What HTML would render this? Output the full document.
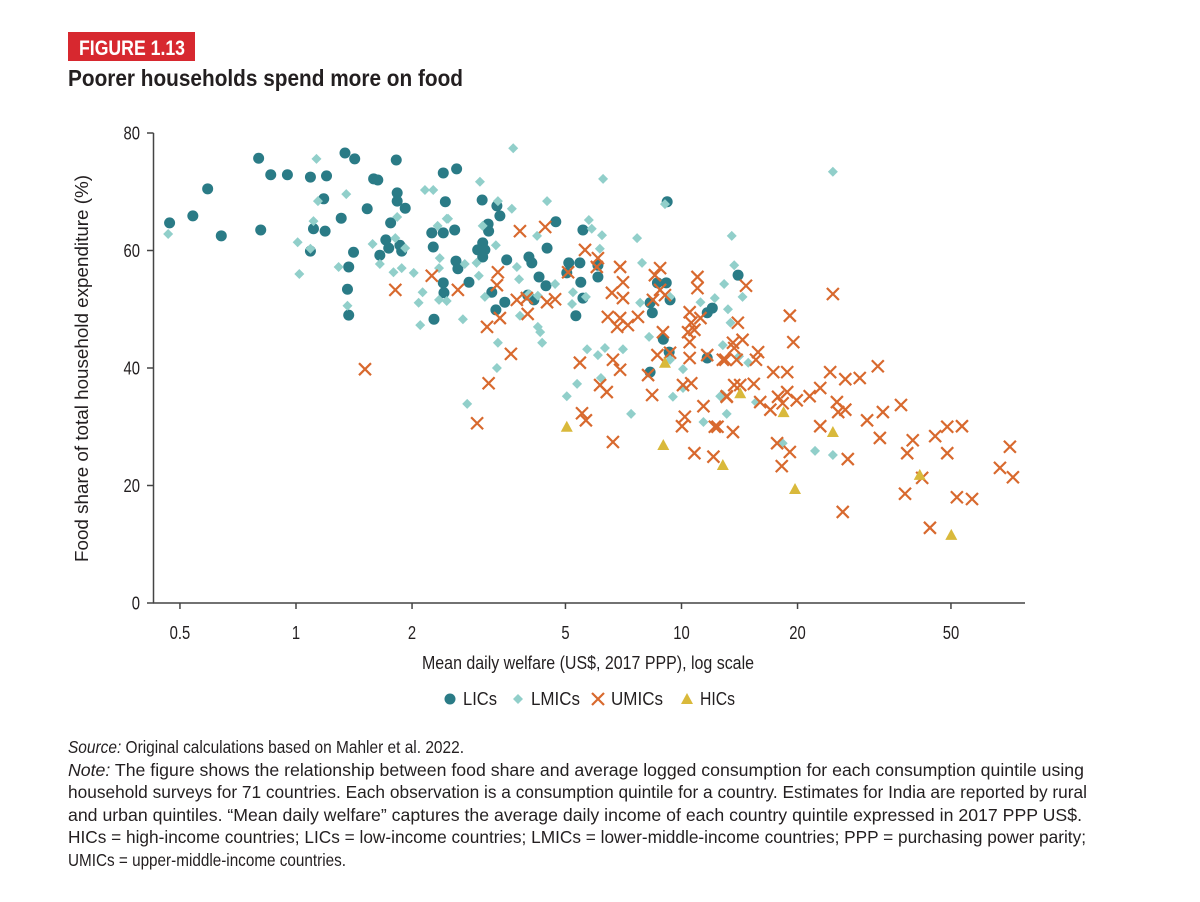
<!DOCTYPE html>
<html><head><meta charset="utf-8">
<style>
body{margin:0;background:#fff;width:1200px;height:902px;overflow:hidden;font-family:"Liberation Sans",sans-serif;color:#231f20;}
svg{position:absolute;left:0;top:0;}
</style></head><body>
<svg id="chart" width="1200" height="902">
<rect x="68" y="32" width="127" height="29" fill="#d7282f"/>
<text x="79" y="55" font-size="21" font-weight="bold" fill="#fff" textLength="106" lengthAdjust="spacingAndGlyphs">FIGURE 1.13</text>
<text x="68" y="86" font-size="23" font-weight="bold" fill="#231f20" textLength="395" lengthAdjust="spacingAndGlyphs">Poorer households spend more on food</text>
<g font-size="17.5" fill="#231f20">
<text x="68" y="753" textLength="396" lengthAdjust="spacingAndGlyphs"><tspan font-style="italic">Source:</tspan> Original calculations based on Mahler et al. 2022.</text>
<text x="68" y="776" textLength="1016" lengthAdjust="spacingAndGlyphs"><tspan font-style="italic">Note:</tspan> The figure shows the relationship between food share and average logged consumption for each consumption quintile using</text>
<text x="68" y="798" textLength="1019" lengthAdjust="spacingAndGlyphs">household surveys for 71 countries. Each observation is a consumption quintile for a country. Estimates for India are reported by rural</text>
<text x="68" y="821" textLength="1014" lengthAdjust="spacingAndGlyphs">and urban quintiles. “Mean daily welfare” captures the average daily income of each country quintile expressed in 2017 PPP US$.</text>
<text x="68" y="843" textLength="1018" lengthAdjust="spacingAndGlyphs">HICs = high-income countries; LICs = low-income countries; LMICs = lower-middle-income countries; PPP = purchasing power parity;</text>
<text x="68" y="866" textLength="278" lengthAdjust="spacingAndGlyphs">UMICs = upper-middle-income countries.</text>
</g>
</svg>
<script>
const xTicks=[0.5,1,2,5,10,20,50];
const xTickLabels=["0.5","1","2","5","10","20","50"];
const yTicks=[0,20,40,60,80];
const licX=[0.80,0.86,0.95,1.09,1.20,0.59,0.54,0.47,0.64,0.81,1.11,1.19,1.09,1.18,1.31,1.34,1.42,1.82,1.59,1.63,1.53,1.41,1.37,1.36,1.37,1.65,1.71,1.74,1.86,1.88,1.76,1.83,1.83,1.92,2.41,2.61,2.44,2.25,2.41,2.27,2.41,2.42,2.28,3.04,3.32,3.38,3.15,3.16,3.05,2.96,3.09,3.05,2.58,2.60,2.63,2.81,3.22,3.30,3.48,3.52,4.02,4.09,4.48,4.72,4.27,4.45,4.14,3.99,5.55,5.10,5.45,5.04,5.48,6.07,6.07,5.32,5.55,8.29,8.40,9.18,8.66,9.13,9.34,8.97,9.29,8.29,11.66,12.02,11.66,14.02];
const licY=[75.7,72.9,72.9,72.5,72.7,70.5,65.9,64.7,62.5,63.5,63.7,63.3,59.9,68.8,65.5,76.6,75.6,75.4,72.2,72.0,67.1,59.7,57.2,53.4,49.0,59.2,61.8,60.4,60.9,59.9,64.7,69.8,68.4,67.2,73.2,73.9,68.3,63.0,63.0,60.6,54.5,52.8,48.3,68.6,67.6,65.9,64.5,63.3,61.3,60.1,60.1,58.9,63.5,58.2,56.9,54.6,52.9,49.9,51.2,58.4,58.9,57.9,60.4,64.9,55.5,54.0,51.6,52.4,63.5,57.9,57.9,56.2,54.6,55.5,57.5,48.9,51.9,51.1,49.4,68.3,54.5,54.5,51.6,44.9,42.7,39.3,41.7,50.2,49.4,55.8];
const lmicX=[0.466,1.13,1.14,1.35,1.11,1.01,1.09,1.02,1.29,1.36,1.58,1.65,1.79,1.88,1.83,1.81,1.92,2.02,2.08,2.13,2.10,2.16,2.27,2.33,2.46,2.36,2.35,2.35,2.46,3.66,3.0,6.26,3.34,3.63,4.48,2.48,3.05,3.30,4.22,5.75,5.85,6.22,6.14,7.67,9.06,13.5,13.7,2.74,2.94,2.98,3.74,3.79,4.70,5.23,5.20,5.65,7.9,7.81,9.34,3.09,4.02,4.24,2.71,3.81,4.24,4.30,3.34,4.35,3.32,5.69,6.07,6.33,7.05,6.18,5.36,5.04,2.78,7.4,8.24,10.09,9.5,11.4,12.8,13.1,12.8,13.2,13.4,12.2,11.2,12.9,9.34,14.4,14.1,14.9,10.09,12.6,15.6,18.3,22.2,24.7,24.7];
const lmicY=[62.8,75.6,68.4,69.6,65.0,61.4,60.3,56.0,57.2,50.6,61.1,57.7,56.3,57.0,65.7,62.1,60.4,56.2,51.1,52.9,47.3,70.3,70.3,64.2,65.4,58.7,57.0,51.6,51.4,77.4,71.7,72.2,68.4,67.1,68.4,65.4,64.2,60.9,62.5,65.2,63.7,62.6,60.3,62.1,67.9,62.5,57.5,57.7,57.9,55.7,57.2,55.1,54.3,52.9,50.9,52.1,57.9,51.1,52.1,52.1,52.6,52.3,48.3,48.9,47.0,46.1,44.3,44.3,40.0,43.2,42.2,43.4,43.2,38.3,37.3,35.2,33.9,32.2,45.3,39.8,35.1,30.8,35.4,32.2,43.9,50.0,47.7,51.9,51.2,54.3,41.4,52.1,42.0,40.9,36.6,35.2,34.2,27.2,25.9,25.2,73.4];
const umicX=[1.81,2.25,1.51,3.81,4.43,5.62,6.07,6.03,6.93,5.08,3.34,3.32,2.63,7.05,8.8,8.53,11.0,11.0,8.8,9.06,8.43,6.6,7.05,3.74,3.97,4.48,4.70,3.38,3.99,3.13,6.44,6.93,7.26,7.71,6.81,8.95,10.5,10.6,11.2,10.4,10.5,13.6,13.7,13.0,10.5,11.66,9.34,8.66,8.19,6.64,6.93,5.45,3.61,3.16,6.15,6.40,8.39,10.09,10.6,11.4,13.7,13.1,5.52,5.65,2.95,6.64,10.03,10.2,12.2,13.6,10.8,12.1,14.7,24.7,19.1,19.5,10.8,14.0,14.4,15.8,15.6,12.8,13.9,17.3,18.8,24.3,32.3,26.6,29.0,15.4,14.2,17.8,18.8,18.3,19.9,21.5,22.9,17.0,16.0,25.3,25.5,26.6,30.3,33.3,37.1,13.1,12.4,22.9,32.7,39.8,38.5,45.5,48.9,53.4,48.9,17.7,19.1,18.2,27.0,71.1,67.0,72.4,42.1,38.0,51.8,56.7,26.2,44.1];
const umicY=[53.3,55.7,39.8,63.3,64.0,60.1,58.7,57.2,57.2,56.3,56.3,54.1,53.3,54.6,57.0,55.8,55.5,53.6,53.3,52.4,51.6,52.8,51.9,51.6,51.9,51.2,51.7,48.5,49.2,47.0,48.7,48.5,47.3,48.7,47.0,46.1,49.5,47.7,48.5,46.1,44.4,44.3,43.4,41.4,41.7,42.2,42.6,42.2,38.8,41.4,39.7,40.9,42.4,37.4,37.1,35.9,35.4,37.1,37.4,33.5,37.1,35.1,32.3,31.1,30.6,27.4,30.1,31.7,30.0,29.1,25.5,24.9,54.0,52.6,48.9,44.4,46.5,47.7,44.8,42.7,41.4,41.4,41.4,39.3,39.3,39.3,40.3,38.1,38.3,37.3,37.1,35.1,35.9,34.0,34.5,35.2,36.6,32.9,34.2,34.2,32.5,32.9,31.1,32.5,33.7,35.2,30.0,30.1,28.1,27.7,25.5,28.4,30.0,30.1,25.5,27.2,25.7,23.3,24.5,26.6,23.0,21.4,21.3,18.6,18.0,17.7,15.5,12.8];
const hicX=[5.04,8.97,9.06,14.2,12.8,18.4,19.7,24.7,41.5,50.1];
const hicY=[30.0,26.9,40.9,35.7,23.5,32.5,19.4,29.1,21.8,11.6];

const NS="http://www.w3.org/2000/svg";
const svg=document.getElementById('chart');
const X0=296,DEC=385.5,Y0=603,YS=5.875;
function sx(v){return X0+DEC*Math.log10(v);}
function sy(v){return Y0-YS*v;}
function mk(tag,attrs,parent){const e=document.createElementNS(NS,tag);for(const k in attrs)e.setAttribute(k,attrs[k]);(parent||svg).appendChild(e);return e;}
let ax=mk('line',{x1:153.5,y1:133,x2:153.5,y2:603,stroke:'#444','stroke-width':1.5});


ax=mk('line',{x1:153,y1:603,x2:1025,y2:603,stroke:'#444','stroke-width':1.5});


yTicks.forEach(t=>{
  const l=mk('line',{x1:147,x2:153.5,y1:sy(t),y2:sy(t),stroke:'#444','stroke-width':1.5});
  
  
  const tx=mk('text',{x:140,y:sy(t)+6.5,'text-anchor':'end','font-size':18.5,fill:'#231f20',transform:`translate(140,0) scale(0.8,1) translate(-140,0)`});
  tx.textContent=t;
  
  
});
xTicks.forEach((t,i)=>{
  const x=sx(t);
  const l=mk('line',{x1:x,x2:x,y1:603,y2:609,stroke:'#444','stroke-width':1.5});
  
  
  const tx=mk('text',{x:x,y:639,'text-anchor':'middle','font-size':18.5,fill:'#231f20',transform:`translate(${x},0) scale(0.8,1) translate(${-x},0)`});
  tx.textContent=xTickLabels[i];
  
  
});
let t=mk('text',{x:422,y:669,'font-size':18,fill:'#231f20',textLength:332,lengthAdjust:'spacingAndGlyphs'});
t.textContent='Mean daily welfare (US$, 2017 PPP), log scale';


t=mk('text',{x:0,y:0,'font-size':18,fill:'#231f20',textLength:387,lengthAdjust:'spacingAndGlyphs',transform:'translate(88,562) rotate(-90)'});
t.textContent='Food share of total household expenditure (%)';



const C_LIC='#2a7b86',C_LMIC='#91cfca',C_UMIC='#d8692e',C_HIC='#d9b93b';
function circle(x,y,g){return mk('circle',{cx:x,cy:y,r:5.5,fill:C_LIC},g);}
function diamond(x,y,g){return mk('path',{d:`M${x} ${y-5}L${x+5} ${y}L${x} ${y+5}L${x-5} ${y}Z`,fill:C_LMIC},g);}
function cross(x,y,g){return mk('path',{d:`M${x-6} ${y-6}L${x+6} ${y+6}M${x+6} ${y-6}L${x-6} ${y+6}`,stroke:C_UMIC,'stroke-width':2.2,fill:'none'},g);}
function tri(x,y,g){return mk('path',{d:`M${x} ${y-6}L${x+6} ${y+5}L${x-6} ${y+5}Z`,fill:C_HIC},g);}
function series(xs,ys,fn,name){
  const g=mk('g',{});
  
  
  xs.forEach((v,i)=>{
    const e=fn(sx(v),sy(ys[i]),g);
    
    
  });
}
series(licX,licY,circle,'lic');
series(lmicX,lmicY,diamond,'lmic');
series(umicX,umicY,cross,'umic');
series(hicX,hicY,tri,'hic');

const lg=mk('g',{});


const items=[['LICs',circle,450,34],['LMICs',diamond,518,49],['UMICs',cross,598,52],['HICs',tri,687,35]];
items.forEach(([lab,fn,x,w])=>{
  const m=fn(x,699,lg);
  
  
  const tx=mk('text',{x:x+13,y:705,'font-size':18,fill:'#231f20',textLength:w,lengthAdjust:'spacingAndGlyphs'},lg);
  tx.textContent=lab;
  
  
});
</script>
</body></html>
